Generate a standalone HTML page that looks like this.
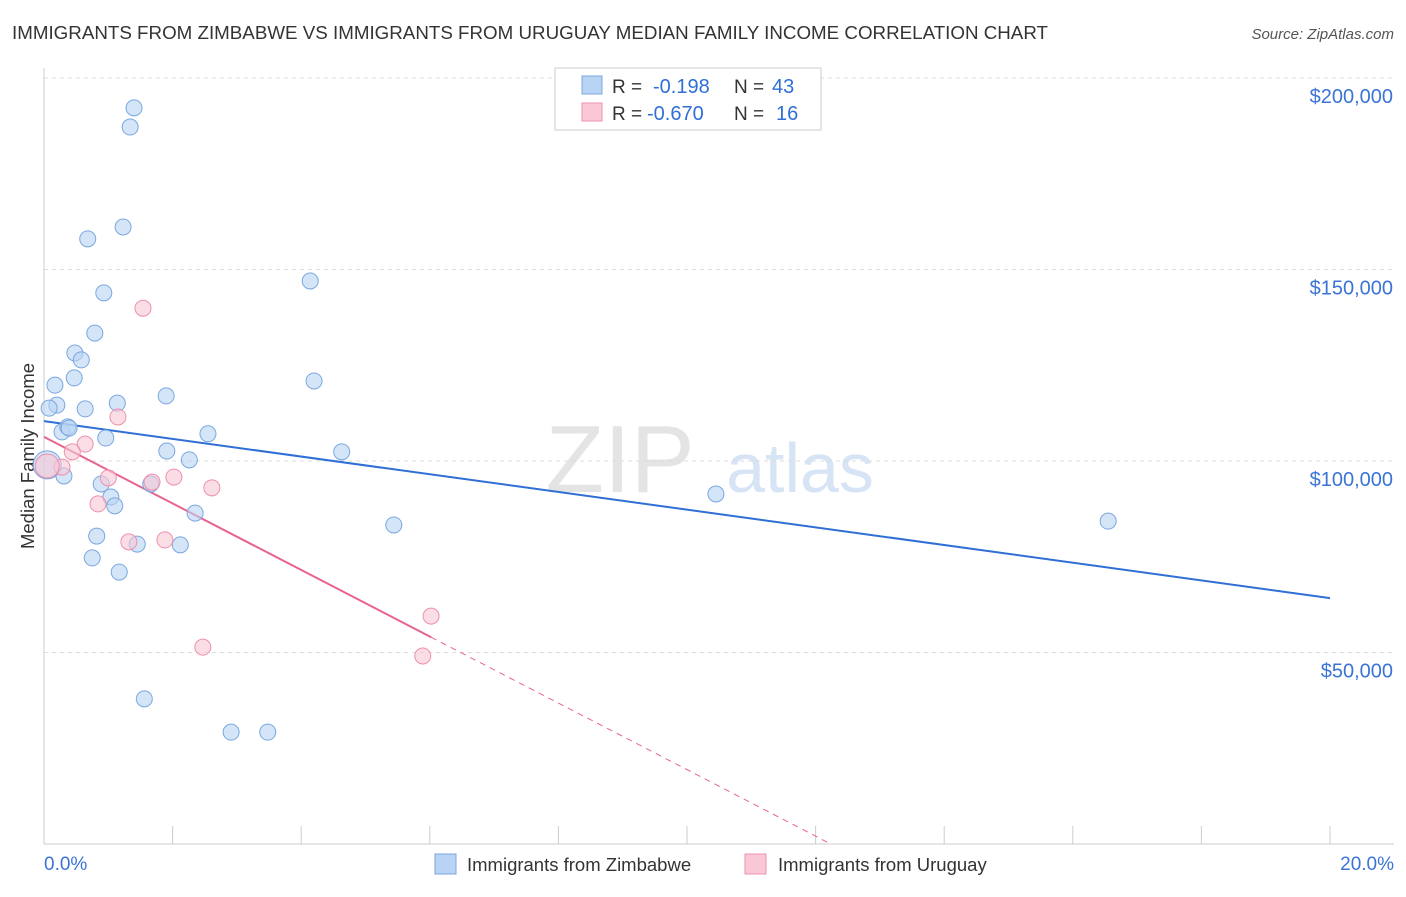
<!DOCTYPE html>
<html><head><meta charset="utf-8"><style>
body{margin:0;background:#fff;font-family:"Liberation Sans",sans-serif;}
svg text{font-family:"Liberation Sans",sans-serif;}
</style></head><body>
<svg width="1406" height="892" id="chart" xmlns="http://www.w3.org/2000/svg">
<text x="12" y="39" font-size="18.6" fill="#333" textLength="1036" lengthAdjust="spacingAndGlyphs">IMMIGRANTS FROM ZIMBABWE VS IMMIGRANTS FROM URUGUAY MEDIAN FAMILY INCOME CORRELATION CHART</text>
<text x="1394" y="39" font-size="15" fill="#555" font-style="italic" text-anchor="end">Source: ZipAtlas.com</text>
<text x="620" y="492" font-size="96" fill="#e4e4e4" font-family="Liberation Serif" text-anchor="middle">ZIP</text>
<text x="800" y="492" font-size="70" fill="#d6e4f5" text-anchor="middle">atlas</text>
<text transform="translate(34,456) rotate(-90)" font-size="18.5" fill="#333" text-anchor="middle">Median Family Income</text>
<g id="grid"></g><g id="axes"></g><g id="lines"></g><g id="pts"></g>
<g>
<rect x="555" y="68" width="266" height="62" fill="#fff" stroke="#ccc"/>
<rect x="582" y="76" width="20" height="18" fill="#b9d3f4" stroke="#7aa7e0"/>
<rect x="582" y="103" width="20" height="18" fill="#f9c7d5" stroke="#ee90ab"/>
<text x="612" y="93" font-size="19" fill="#333">R =</text>
<text x="653" y="93" font-size="20" fill="#2f6fd6">-0.198</text>
<text x="734" y="93" font-size="19" fill="#333">N =</text>
<text x="772" y="93" font-size="20" fill="#2f6fd6">43</text>
<text x="612" y="120" font-size="19" fill="#333">R =</text>
<text x="647" y="120" font-size="20" fill="#2f6fd6">-0.670</text>
<text x="734" y="120" font-size="19" fill="#333">N =</text>
<text x="776" y="120" font-size="20" fill="#2f6fd6">16</text>
</g>
<g>
<rect x="435" y="854" width="21" height="20" fill="#b9d3f4" stroke="#7aa7e0"/>
<text x="467" y="871" font-size="18.5" fill="#333">Immigrants from Zimbabwe</text>
<rect x="745" y="854" width="21" height="20" fill="#f9c7d5" stroke="#ee90ab"/>
<text x="778" y="871" font-size="18.5" fill="#333">Immigrants from Uruguay</text>
</g>
</svg>
<script>
const blueX=[1.40,1.34,1.23,0.68,0.93,4.14,0.79,0.48,0.58,0.47,4.20,0.17,1.90,0.20,0.08,0.64,1.14,0.28,0.37,0.39,2.55,0.96,1.91,4.63,2.26,0.31,0.89,1.66,1.04,1.10,2.35,10.45,5.44,16.55,0.82,1.45,2.12,0.75,1.17,1.56,2.91,3.48,0.05];
const blueY=[192200,187200,161100,158000,143900,147000,133400,128200,126400,121700,120900,119800,117000,114600,113800,113600,115100,107600,108900,108600,107100,106000,102600,102400,100300,96100,94000,94000,90600,88300,86400,91400,83300,84300,80400,78300,78100,74700,71000,37900,29200,29200,99000];
const pinkX=[1.54,1.15,0.64,0.44,0.28,0.05,1.00,2.02,1.68,2.61,0.84,1.32,1.88,6.02,2.47,5.89];
const pinkY=[139900,111500,104400,102400,98400,98700,95600,95800,94500,93000,88800,78900,79400,59500,51400,49100];
const yTicks=[50000,100000,150000,200000];
const yTickLabels=["$50,000","$100,000","$150,000","$200,000"];
const blueTrend=[110400,64200];
const pinkTrend=[106300,54000];
const pinkSolidEnd=6.02;
const NS="http://www.w3.org/2000/svg";
const sx=v=>44+v*64.3, sy=v=>844-v/261.1;
function mk(t,a,p){const e=document.createElementNS(NS,t);for(const k in a)e.setAttribute(k,a[k]);document.getElementById(p).appendChild(e);return e;}
yTicks.forEach((t,i)=>{
 const l=mk('line',{x1:44,x2:1394,y1:sy(t),y2:sy(t),stroke:'#ddd','stroke-dasharray':'4,4'},'grid');
 
 
 const tx=mk('text',{x:1393,y:sy(t)+25,'font-size':20,fill:'#3b74d6','text-anchor':'end'},'grid');
 tx.textContent=yTickLabels[i];
 
 
});
mk('line',{x1:44,x2:44,y1:68,y2:844,stroke:'#ccc'},'axes');
mk('line',{x1:44,x2:1394,y1:844,y2:844,stroke:'#ccc'},'axes');
for(let i=0;i<=10;i++){const t=mk('line',{x1:sx(i*2),x2:sx(i*2),y1:826,y2:844,stroke:'#ccc'},'axes');
 
 }
const x0=mk('text',{x:44,y:870,'font-size':19,fill:'#3b74d6'},'axes');x0.textContent='0.0%';


const x1=mk('text',{x:1394,y:870,'font-size':19,fill:'#3b74d6','text-anchor':'end'},'axes');x1.textContent='20.0%';


const bl=mk('line',{x1:sx(0),y1:sy(blueTrend[0]),x2:sx(20),y2:sy(blueTrend[1]),stroke:'#2f6fd6','stroke-width':2},'lines');


const slope=(pinkTrend[1]-pinkTrend[0])/pinkSolidEnd, xz=-pinkTrend[0]/slope;
const pl=mk('line',{x1:sx(0),y1:sy(pinkTrend[0]),x2:sx(pinkSolidEnd),y2:sy(pinkTrend[1]),stroke:'#e8648f','stroke-width':2},'lines');


const pd=mk('line',{x1:sx(pinkSolidEnd),y1:sy(pinkTrend[1]),x2:sx(xz),y2:sy(0),stroke:'#e8648f','stroke-width':1,'stroke-dasharray':'6,5'},'lines');


blueX.forEach((x,i)=>{const r=i==blueX.length-1?14:8;
 const c=mk('circle',{cx:sx(x),cy:sy(blueY[i]),r:r,fill:'#b9d3f4','fill-opacity':0.6,stroke:'#7aa7e0','stroke-width':1},'pts');
 
 });
pinkX.forEach((x,i)=>{const r=i==5?12:8;
 const c=mk('circle',{cx:sx(x),cy:sy(pinkY[i]),r:r,fill:'#f9c7d5','fill-opacity':0.6,stroke:'#ee90ab','stroke-width':1},'pts');
 
 });
</script>
</body></html>
